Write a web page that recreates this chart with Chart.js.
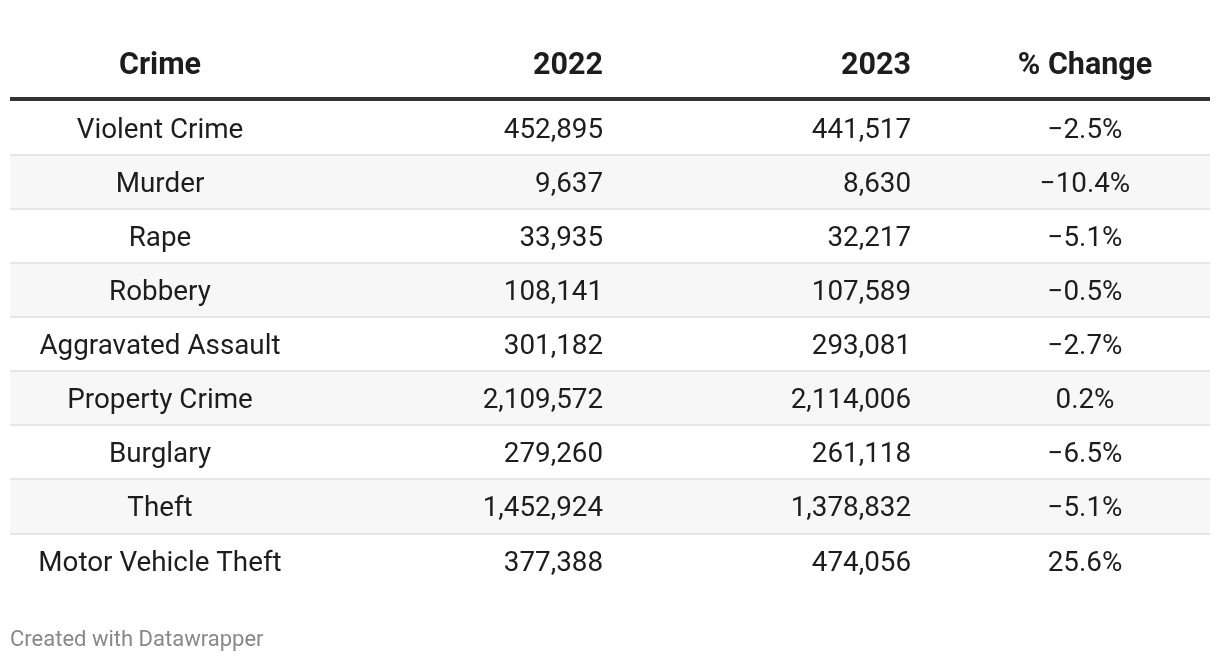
<!DOCTYPE html>
<html>
<head>
<meta charset="utf-8">
<script src="https://cdn.jsdelivr.net/npm/chart.js"></script>
<style>
html,body{margin:0;padding:0;background:#fff;}
#wrap{width:1220px;height:662px;position:relative;}
</style>
</head>
<body>
<div id="wrap"><canvas id="c" width="1220" height="662"></canvas></div>
<script>
const headers = ['Crime', '2022', '2023', '% Change'];
const crimes = ['Violent Crime', 'Murder', 'Rape', 'Robbery', 'Aggravated Assault', 'Property Crime', 'Burglary', 'Theft', 'Motor Vehicle Theft'];
const values2022 = [452895, 9637, 33935, 108141, 301182, 2109572, 279260, 1452924, 377388];
const values2023 = [441517, 8630, 32217, 107589, 293081, 2114006, 261118, 1378832, 474056];
const pctChange = [-2.5, -10.4, -5.1, -0.5, -2.7, 0.2, -6.5, -5.1, 25.6];
const footer = 'Created with Datawrapper';

const fmtNum = v => v.toLocaleString('en-US');
const fmtPct = v => (v < 0 ? '\u2212' : '') + Math.abs(v).toFixed(1) + '%';

// stripes: every second row shaded
const stripeData = crimes.map((_, i) => i % 2 === 1 ? [0, 1200] : null);

const tablePlugin = {
  id: 'tableText',
  afterDatasetsDraw(chart) {
    const ctx = chart.ctx;
    const xs = chart.scales.x, ys = chart.scales.y;
    const area = chart.chartArea;
    const cols = [[150, 'center'], [593, 'right'], [901, 'right'], [1075, 'center']];
    ctx.save();
    ctx.fillStyle = '#e6e6e6';
    for (let i = 0; i < crimes.length - 1; i++) {
      const yb = (ys.getPixelForValue(i) + ys.getPixelForValue(i + 1)) / 2;
      ctx.fillRect(area.left, Math.round(yb) - 1, area.right - area.left, 2);
    }
    ctx.fillStyle = '#333333';
    ctx.fillRect(area.left, area.top - 4, area.right - area.left, 4);
    ctx.textBaseline = 'middle';
    ctx.fillStyle = '#1d1d1d';
    ctx.font = 'bold 30.5px Roboto';
    const hy = area.top - 35;
    headers.forEach((h, j) => {
      ctx.textAlign = cols[j][1];
      ctx.fillText(h, xs.getPixelForValue(cols[j][0]), hy);
    });
    ctx.font = '27.8px Roboto';
    crimes.forEach((name, i) => {
      const y = ys.getPixelForValue(i) + 3;
      const cells = [name, fmtNum(values2022[i]), fmtNum(values2023[i]), fmtPct(pctChange[i])];
      cells.forEach((t, j) => {
        ctx.textAlign = cols[j][1];
        ctx.fillText(t, xs.getPixelForValue(cols[j][0]), y);
      });
    });
    ctx.restore();
  }
};

new Chart(document.getElementById('c'), {
  type: 'bar',
  data: {
    labels: crimes,
    datasets: [{
      data: stripeData,
      backgroundColor: '#f7f7f7',
      borderWidth: 0,
      barPercentage: 1,
      categoryPercentage: 1
    }]
  },
  options: {
    indexAxis: 'y',
    responsive: false,
    animation: false,
    devicePixelRatio: 1,
    layout: { padding: { left: 10, right: 10, top: 101, bottom: 8 } },
    scales: {
      x: { type: 'linear', min: 0, max: 1200, display: false },
      y: { type: 'category', display: false, offset: true }
    },
    plugins: {
      legend: { display: false },
      tooltip: { enabled: false },
      title: {
        display: true,
        text: footer,
        position: 'bottom',
        align: 'start',
        color: '#888888',
        font: { family: 'Roboto', size: 22, weight: 'normal' },
        padding: { top: 40, bottom: 0 }
      }
    }
  },
  plugins: [tablePlugin]
});
</script>
</body>
</html>
